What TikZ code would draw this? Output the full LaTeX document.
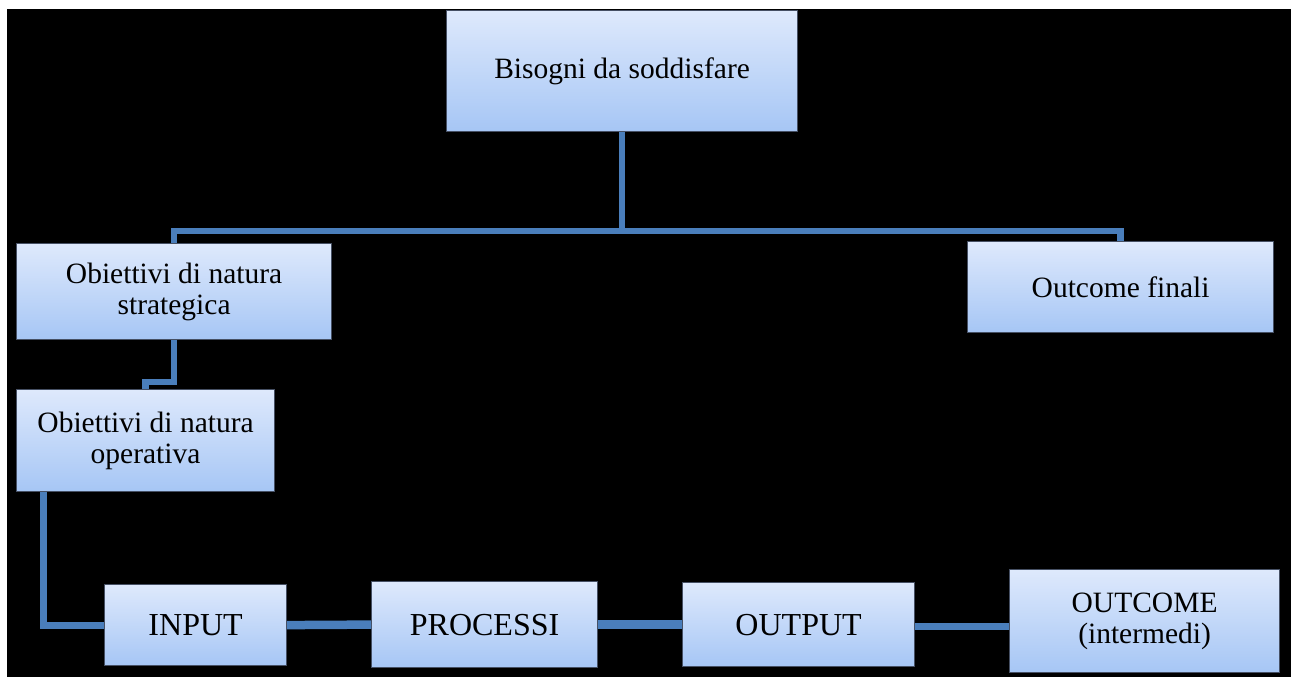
\documentclass[tikz,border=0pt]{standalone}
\usepackage{fontspec}
\setmainfont{Liberation Serif}
\definecolor{boxtop}{RGB}{222,233,252}
\definecolor{boxbot}{RGB}{166,198,245}
\definecolor{boxedge}{RGB}{70,80,100}
\definecolor{link}{RGB}{74,126,187}
\begin{document}
\begin{tikzpicture}[x=1pt,y=-1pt,
  box/.style={draw=boxedge, line width=1.2pt, top color=boxtop, bottom color=boxbot,
    anchor=north west, inner sep=0pt, align=center, text=black,
    font=\fontsize{29.5}{31}\selectfont},
  capbox/.style={box, font=\fontsize{32}{34}\selectfont},
  link/.style={draw=link, line width=6.5pt},
  linkthick/.style={draw=link, line width=8.5pt}]

% page and dark backdrop
\fill[white] (0,0) rectangle (1291,677);
\fill[black] (7,9) rectangle (1291,677);
\useasboundingbox (0,0) rectangle (1291,677);

% boxes
\node[box, minimum width=351, minimum height=121] (bis) at (446,10) {Bisogni da soddisfare};
\node[box, minimum width=315, minimum height=96] (strat) at (16,243) {Obiettivi di natura\\strategica};
\node[box, minimum width=306, minimum height=91] (fin) at (967,241) {Outcome finali};
\node[box, minimum width=258, minimum height=102] (oper) at (16,389) {Obiettivi di natura\\operativa};
\node[capbox, minimum width=182, minimum height=81] (inp) at (104,584) {INPUT};
\node[capbox, minimum width=226, minimum height=86] (proc) at (371,581) {PROCESSI};
\node[capbox, minimum width=232, minimum height=84] (outp) at (682,582) {OUTPUT};
\node[box, minimum width=270, minimum height=103] (outc) at (1009,569) {OUTCOME\\(intermedi)};

% hierarchy connectors
\coordinate (split) at (bis.south |- 0,231);
\draw[link] (bis.south) -- (split) -| (strat.north);
\draw[link] (split) -| (fin.north);
\draw[link] (strat.south) -- ++(0,42) -| (oper.north);
\draw[link, line width=7pt] ([xshift=27]oper.south west) |- (inp.west);

% process chain
\draw[linkthick] (inp.east) -- (proc.west);
\draw[linkthick] (proc.east) -- (outp.west);
\draw[link] ([yshift=-2]outp.east) -- ([yshift=-2]outp.east -| outc.west);
\end{tikzpicture}
\end{document}
